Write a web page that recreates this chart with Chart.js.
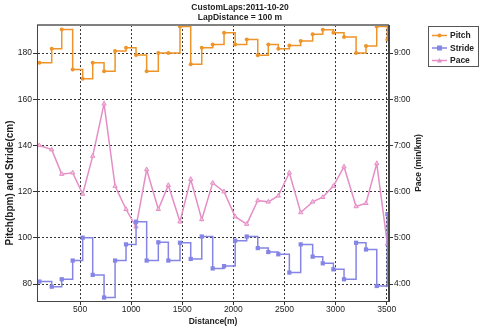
<!DOCTYPE html>
<html>
<head>
<meta charset="utf-8">
<script src="https://cdn.jsdelivr.net/npm/chart.js@4/dist/chart.umd.min.js"></script>
<style>
  html, body { margin: 0; padding: 0; background: #fff; }
  #wrap { width: 480px; height: 329px; }
</style>
</head>
<body>
<div id="wrap"><canvas id="lapChart" width="480" height="329"></canvas></div>
<script>
// lap end distances (m)
const distance = [102, 223, 321, 428, 526, 624, 735, 843, 950, 1048, 1152,
    1266, 1364, 1478, 1583, 1691, 1798, 1909, 2018, 2131, 2239, 2342,
    2440, 2548, 2659, 2776, 2875, 2979, 3083, 3201, 3298, 3403, 3507];

// cadence (steps per minute)
const pitch = [175.8, 181.9, 190.2, 172.9, 168.9, 175.8, 172.1, 180.9, 182.3, 179.1, 172.1,
    180.0, 180.0, 191.5, 175.1, 182.3, 183.7, 188.8, 183.7, 185.9, 179.0, 183.7,
    181.9, 183.3, 185.2, 188.1, 190.1, 188.8, 186.9, 180.0, 183.0, 191.5, 185.9];

// stride length (cm)
const stride = [81.1, 78.9, 82.1, 90.2, 100.1, 84.0, 74.2, 90.2, 97.2, 107.0, 90.2,
    98.1, 90.2, 97.9, 90.9, 100.6, 86.8, 87.8, 98.8, 100.6, 95.6, 93.9,
    92.9, 85.0, 97.2, 91.9, 89.0, 86.4, 82.1, 97.9, 95.0, 79.2, 110.3];

// pace (minutes per km)
const pace = [7.00, 6.91, 6.38, 6.41, 5.95, 6.77, 7.90, 6.12, 5.62, 5.24, 6.48,
    5.62, 6.14, 5.35, 6.27, 5.40, 6.19, 6.00, 5.46, 5.30, 5.81, 5.78,
    5.91, 6.41, 5.55, 5.78, 5.88, 6.12, 6.54, 5.68, 5.75, 6.61, 4.87];

// axis ticks
const distTicks = [500, 1000, 1500, 2000, 2500, 3000, 3500];
const leftTicks = [80, 100, 120, 140, 160, 180];
const paceTicks = [4, 5, 6, 7, 8, 9];

const titleLines = ['CustomLaps:2011-10-20', 'LapDistance = 100 m'];

const pitchColor = '#ee9428';
const strideColor = '#8585e6';
const paceColor = '#e58ec6';
const FONT = '"Liberation Sans", Arial, sans-serif';

function toPoints(values){
    let pts = [];
    for(let i = 0; i < values.length; i++){
        pts.push({x: distance[i], y: values[i]});
    }
    return pts;
}

function paceLabel(v){
    let m = Math.floor(v + 1e-6);
    let s = Math.round((v - m) * 60);
    return m + ':' + String(s).padStart(2, '0');
}

function fixedTicks(list){
    return function(scale){
        scale.ticks = list.map(v => ({value: v}));
    };
}

// frame, axis titles and the boxed legend
const extras = {
    id: 'extras',
    afterDraw(chart){
        const c = chart.ctx;
        const a = chart.chartArea;
        c.save();

        // plot frame
        c.strokeStyle = '#808080';
        c.lineWidth = 2;
        c.beginPath();
        c.moveTo(a.left, a.top);
        c.lineTo(a.right, a.top);
        c.stroke();
        c.strokeStyle = '#444';
        c.lineWidth = 1;
        c.beginPath();
        c.moveTo(a.left + 0.5, a.top);
        c.lineTo(a.left + 0.5, a.bottom);
        c.moveTo(a.right - 0.5, a.top);
        c.lineTo(a.right - 0.5, a.bottom);
        c.stroke();

        // axis titles
        c.fillStyle = '#222';
        c.textAlign = 'center';
        c.textBaseline = 'middle';
        c.font = 'bold 10px ' + FONT;
        c.save();
        c.translate(10, 183);
        c.rotate(-Math.PI / 2);
        c.fillText('Pitch(bpm) and Stride(cm)', 0, 0);
        c.restore();
        c.font = 'bold 8.5px ' + FONT;
        c.save();
        c.translate(419, 163);
        c.rotate(-Math.PI / 2);
        c.fillText('Pace (min/km)', 0, 0);
        c.restore();
        c.fillText('Distance(m)', (a.left + a.right) / 2, 322);

        // legend
        c.strokeStyle = '#555';
        c.lineWidth = 1;
        c.strokeRect(428.5, 26.5, 50, 40);
        const rows = [35.5, 48, 60.5];
        chart.data.datasets.forEach((ds, i) => {
            const y = rows[i];
            c.strokeStyle = ds.borderColor;
            c.lineWidth = 1.5;
            c.beginPath();
            c.moveTo(432, y);
            c.lineTo(447, y);
            c.stroke();
            c.fillStyle = ds.borderColor;
            c.beginPath();
            if(ds.pointStyle === 'rect'){
                c.rect(437, y - 2.5, 5, 5);
            } else if(ds.pointStyle === 'triangle'){
                c.moveTo(439.5, y - 2.5);
                c.lineTo(442, y + 2);
                c.lineTo(437, y + 2);
                c.closePath();
            } else {
                c.arc(439.5, y, 2, 0, Math.PI * 2);
            }
            c.fill();
            c.fillStyle = '#222';
            c.font = 'bold 8.5px ' + FONT;
            c.textAlign = 'left';
            c.fillText(ds.label, 450, y + 0.5);
        });
        c.restore();
    }
};

const tickFont = {family: FONT, size: 8.5};

let lapChart = new Chart(document.getElementById('lapChart'), {
    type: 'line',
    data: {
        datasets: [
            {
                label: 'Pitch',
                data: toPoints(pitch),
                yAxisID: 'y',
                stepped: 'before',
                borderColor: pitchColor,
                backgroundColor: pitchColor,
                borderWidth: 1.5,
                pointStyle: 'circle',
                pointRadius: 2,
                pointBorderWidth: 0
            },
            {
                label: 'Stride',
                data: toPoints(stride),
                yAxisID: 'y',
                stepped: 'before',
                borderColor: strideColor,
                backgroundColor: strideColor,
                borderWidth: 1.5,
                pointStyle: 'rect',
                pointRadius: 3,
                pointBorderWidth: 0
            },
            {
                label: 'Pace',
                data: toPoints(pace),
                yAxisID: 'y1',
                borderColor: paceColor,
                backgroundColor: '#f3c3e0',
                borderWidth: 1.5,
                pointStyle: 'triangle',
                pointRadius: 2.5,
                pointBorderWidth: 1
            }
        ]
    },
    options: {
        responsive: false,
        animation: false,
        layout: {padding: 0},
        plugins: {
            legend: {display: false},
            tooltip: {enabled: false},
            title: {
                display: true,
                text: titleLines,
                color: '#222',
                font: {family: FONT, size: 8.5, weight: 'bold', lineHeight: 1.18},
                padding: {top: 2.5, bottom: 2.5}
            }
        },
        scales: {
            x: {
                type: 'linear',
                min: 79,
                max: 3523,
                afterBuildTicks: fixedTicks(distTicks),
                ticks: {autoSkip: false, font: tickFont, color: '#222', padding: 0, maxRotation: 0,
                    callback: (v) => String(v)},
                grid: {color: '#333', tickColor: '#333', tickLength: 4},
                border: {display: true, color: '#444', dash: [2, 2]},
                afterFit(scale){ scale.height = 28; }
            },
            y: {
                position: 'left',
                min: 72.7,
                max: 192.1,
                afterBuildTicks: fixedTicks(leftTicks),
                ticks: {autoSkip: false, font: tickFont, color: '#222', padding: 1},
                grid: {color: '#333', tickColor: '#333', tickLength: 4},
                border: {display: true, color: '#444', dash: [2, 2]},
                afterFit(scale){ scale.width = 37; }
            },
            y1: {
                position: 'right',
                min: 3.635,
                max: 9.605,
                afterBuildTicks: fixedTicks(paceTicks),
                ticks: {autoSkip: false, font: tickFont, color: '#222', padding: 1,
                    callback: (v) => paceLabel(v)},
                grid: {drawOnChartArea: false, color: '#333', tickColor: '#333', tickLength: 4},
                border: {display: true, color: '#444'},
                afterFit(scale){ scale.width = 91; }
            }
        }
    },
    plugins: [extras]
});
</script>
</body>
</html>
